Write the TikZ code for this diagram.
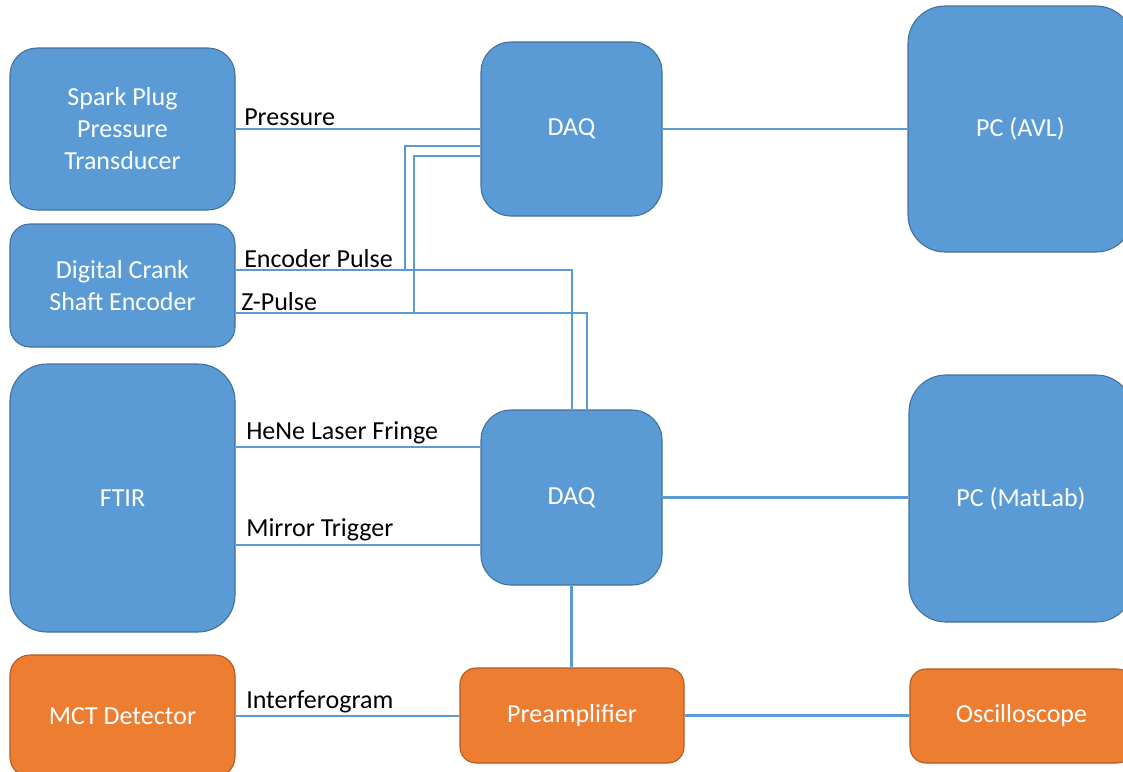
\documentclass[tikz,border=0pt]{standalone}
\usepackage{fontspec}
\setmainfont{Carlito}
\definecolor{boxblue}{HTML}{5B9BD5}
\definecolor{edgeblue}{HTML}{41719C}
\definecolor{boxorange}{HTML}{ED7D31}
\definecolor{edgeorange}{HTML}{AE5A21}
\begin{document}
\begin{tikzpicture}[x=0.75pt,y=-0.75pt,
  bluebox/.style={rectangle, fill=boxblue, draw=edgeblue, line width=0.8pt, text=white, align=center, inner sep=0pt, font=\fontsize{19.5}{24}\selectfont},
  orangebox/.style={bluebox, fill=boxorange, draw=edgeorange},
  wire/.style={draw=boxblue, line width=2pt},
  lbl/.style={anchor=base west, inner sep=0pt, font=\fontsize{19.5}{24}\selectfont, text=black}]
\useasboundingbox (0,0) rectangle (1123,771);
\begin{scope}
\clip (0,0) rectangle (1123,771);
\node[bluebox, minimum width=168.75pt, minimum height=121.5pt, rounded corners=20.25pt] (spark) at (122.5,129) {Spark Plug\\Pressure\\Transducer};
\node[bluebox, minimum width=168.75pt, minimum height=92.25pt, rounded corners=15pt] (crank) at (122.5,285.5) {Digital Crank\\Shaft Encoder};
\node[bluebox, minimum width=168.75pt, minimum height=201pt, rounded corners=27.75pt] (ftir) at (122.5,498) {FTIR};
\node[orangebox, minimum width=168.75pt, minimum height=91.5pt, rounded corners=15pt] (mct) at (122.5,716) {MCT Detector};
\node[bluebox, minimum width=135.75pt, minimum height=130.5pt, rounded corners=22.5pt] (daq1) at (571.5,129) {DAQ};
\node[bluebox, minimum width=135.75pt, minimum height=131.25pt, rounded corners=22.5pt] (daq2) at (571.5,497.5) {DAQ};
\node[bluebox, minimum width=168.75pt, minimum height=184.5pt, rounded corners=27.75pt] (pcavl) at (1020.5,129) {PC (AVL)};
\node[bluebox, minimum width=168pt, minimum height=185.25pt, rounded corners=27.75pt] (pcmat) at (1021,498.5) {PC (MatLab)};
\node[orangebox, minimum width=168pt, minimum height=71.25pt, rounded corners=12pt] (preamp) at (572,715.5) {Preamplifier};
\node[orangebox, minimum width=167.25pt, minimum height=70.5pt, rounded corners=12pt] (osc) at (1021.5,716) {Oscilloscope};
\end{scope}

\coordinate (encB) at (572,270);
\coordinate (zB) at (587,313);
\coordinate (encT) at (405,146);
\coordinate (zT) at (414,156);
\coordinate (he) at (0,447);
\coordinate (mt) at (0,545);

\draw[wire] (spark.east) -- (spark.east -| daq1.west);
\draw[wire] (daq1.east) -- (daq1.east -| pcavl.west);
\draw[wire] (crank.east |- encB) -- (encB) -- (encB |- daq2.north);
\draw[wire] (crank.east |- zB) -- (zB) -- (zB |- daq2.north);
\draw[wire] (encT |- encB) -- (encT) -- (encT -| daq1.west);
\draw[wire] (zT |- zB) -- (zT) -- (zT -| daq1.west);
\draw[wire] (ftir.east |- he) -- (daq2.west |- he);
\draw[wire] (ftir.east |- mt) -- (daq2.west |- mt);
\draw[wire] (daq2.east) -- (daq2.east -| pcmat.west);
\draw[wire] (daq2.south) -- (daq2.south |- preamp.north);
\draw[wire] (mct.east) -- (mct.east -| preamp.west);
\draw[wire] (preamp.east) -- (preamp.east -| osc.west);

\node[lbl] (lpress) at (244,125) {Pressure};
\node[lbl] (lenc) at (244,267) {Encoder Pulse};
\node[lbl] (lz) at (241,310) {Z-Pulse};
\node[lbl] (lhene) at (246,439) {HeNe Laser Fringe};
\node[lbl] (lmirror) at (246,536) {Mirror Trigger};
\node[lbl] (linter) at (246,708) {Interferogram};
\end{tikzpicture}
\end{document}
